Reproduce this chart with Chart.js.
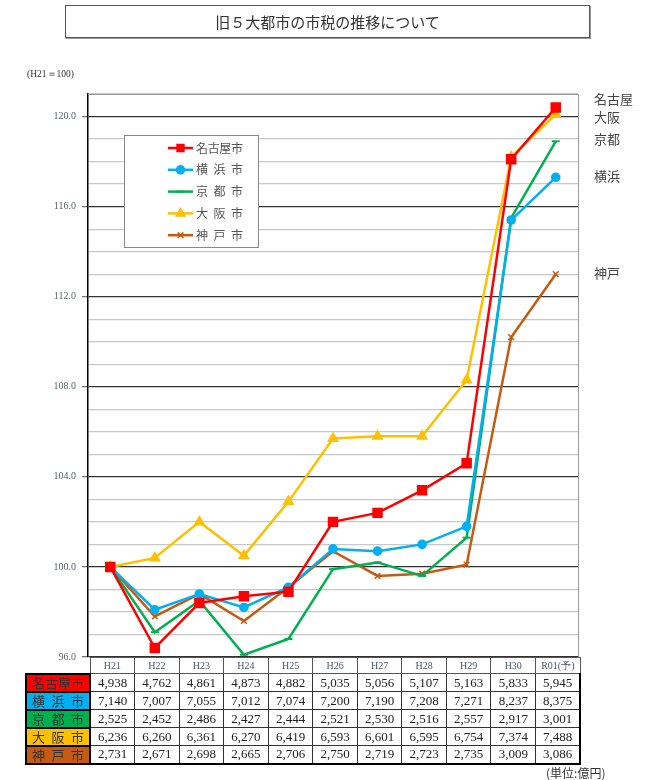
<!DOCTYPE html>
<html lang="ja">
<head>
    <meta charset="UTF-8">
    <title>旧５大都市の市税の推移について</title>
    <script src="https://cdn.jsdelivr.net/npm/chart.js"></script>
    <style>
        body { margin: 0; background: #fff; font-family: "Noto Sans CJK JP", sans-serif; }
        .wrap { position: relative; width: 659px; height: 780px; overflow: hidden; }
        canvas { position: absolute; left: 0; top: 0; }
        .title {
            position: absolute; left: 65px; top: 5px; width: 523px; height: 31px;
            border: 1.5px solid #555; box-shadow: 1px 1px 0 #999;
            text-align: center; line-height: 31px; font-size: 15px; color: #333;
        }
        .base { position: absolute; left: 27px; top: 68px; font-size: 9.5px; color: #333; font-family: "Liberation Serif", serif; }
        .unit { position: absolute; left: 546px; top: 764px; font-size: 12px; color: #333; }
        table { position: absolute; left: 25px; top: 657px; border-collapse: collapse; table-layout: fixed; }
        td { padding: 0; text-align: center; font-family: "Liberation Serif", serif; font-size: 13px; color: #222;
             border: 1px solid #333; height: 16px; line-height: 14px; white-space: nowrap; overflow: hidden; }
        tr.head td { font-size: 10px; color: #4a5470; height: 15px; border-color: #555; }
        tr.head td.blank { border: none; }
        td.name { border: 2px solid #000; font-family: "Noto Sans CJK JP", sans-serif; font-size: 13px; color: #333; }
        td.name span.sp { display: flex; justify-content: space-between; padding: 0 5px; line-height: 14px; }
        tbody.rows tr td:last-child { border-right: 2px solid #000; }
        tbody.rows tr:last-child td { border-bottom: 2px solid #000; }
    </style>
</head>
<body>
<div class="wrap">
    <canvas id="chart" width="659" height="780"></canvas>
    <div class="title">旧５大都市の市税の推移について</div>
    <div class="base">(H21＝100)</div>
    <table id="taxTable"></table>
    <div class="unit">(単位:億円)</div>
</div>

<script>
    // fiscal years
    const categories = ['H21', 'H22', 'H23', 'H24', 'H25', 'H26', 'H27', 'H28', 'H29', 'H30', 'R01(予)'];

    // city names (legend / table / right side labels)
    const cityNames = ['名古屋市', '横浜市', '京都市', '大阪市', '神戸市'];
    const shortNames = ['名古屋', '横浜', '京都', '大阪', '神戸'];
    const cityColors = ['#ff0000', '#00b0f0', '#00b050', '#ffc000', '#c55a11'];

    // index (H21 = 100)
    const nagoyaIndex = [100.0, 96.4, 98.4, 98.7, 98.9, 102.0, 102.4, 103.4, 104.6, 118.1, 120.4];
    const yokohamaIndex = [100.0, 98.1, 98.8, 98.2, 99.1, 100.8, 100.7, 101.0, 101.8, 115.4, 117.3];
    const kyotoIndex = [100.0, 97.1, 98.5, 96.1, 96.8, 99.9, 100.2, 99.6, 101.3, 115.5, 118.9];
    const osakaIndex = [100.0, 100.4, 102.0, 100.5, 102.9, 105.7, 105.8, 105.8, 108.3, 118.2, 120.1];
    const kobeIndex = [100.0, 97.8, 98.8, 97.6, 99.1, 100.7, 99.6, 99.7, 100.1, 110.2, 113.0];

    // tax revenue, 億円 (table under the chart)
    const nagoyaTax = [4938, 4762, 4861, 4873, 4882, 5035, 5056, 5107, 5163, 5833, 5945];
    const yokohamaTax = [7140, 7007, 7055, 7012, 7074, 7200, 7190, 7208, 7271, 8237, 8375];
    const kyotoTax = [2525, 2452, 2486, 2427, 2444, 2521, 2530, 2516, 2557, 2917, 3001];
    const osakaTax = [6236, 6260, 6361, 6270, 6419, 6593, 6601, 6595, 6754, 7374, 7488];
    const kobeTax = [2731, 2671, 2698, 2665, 2706, 2750, 2719, 2723, 2735, 3009, 3086];

    const indexSeries = [nagoyaIndex, yokohamaIndex, kyotoIndex, osakaIndex, kobeIndex];
    const taxSeries = [nagoyaTax, yokohamaTax, kyotoTax, osakaTax, kobeTax];

    // marker look per city
    const pointStyles = ['rect', 'circle', 'line', 'triangle', 'crossRot'];
    const pointRadii = [6, 3.8, 4, 5, 4];
    const labelNudge = [-8, -1, -2, 3, -1];

    // build the table
    const table = document.getElementById('taxTable');
    let html = '<colgroup><col style="width:63px">' + categories.map(() => '<col style="width:44.55px">').join('') + '</colgroup>';
    html += '<tbody><tr class="head"><td class="blank"></td>' + categories.map(c => '<td>' + c + '</td>').join('') + '</tr></tbody>';
    html += '<tbody class="rows">';
    cityNames.forEach((name, i) => {
        const chars = name.split('').map(ch => '<span>' + ch + '</span>').join('');
        html += '<tr><td class="name" style="background:' + cityColors[i] + '"><span class="sp">' + chars + '</span></td>';
        html += taxSeries[i].map(v => '<td>' + v.toLocaleString('en-US') + '</td>').join('') + '</tr>';
    });
    html += '</tbody>';
    table.innerHTML = html;

    // draw text spread over a fixed width
    function spreadText(ctx, text, x, y, width) {
        const chars = text.split('');
        const step = chars.length > 1 ? (width - ctx.measureText(chars[chars.length - 1]).width) / (chars.length - 1) : 0;
        chars.forEach((ch, k) => ctx.fillText(ch, x + k * step, y));
    }

    const overlay = {
        id: 'overlay',
        afterDraw(chart) {
            const { ctx, chartArea: a, scales: { y } } = chart;
            ctx.save();

            // top and right frame
            ctx.strokeStyle = '#999';
            ctx.lineWidth = 1;
            ctx.beginPath();
            ctx.moveTo(a.left, a.top + 0.5);
            ctx.lineTo(a.right + 0.5, a.top + 0.5);
            ctx.lineTo(a.right + 0.5, a.bottom);
            ctx.stroke();

            // names at the right end of the lines
            ctx.font = '13px "Noto Sans CJK JP"';
            ctx.fillStyle = '#444';
            ctx.textBaseline = 'middle';
            shortNames.forEach((n, i) => {
                const last = indexSeries[i][indexSeries[i].length - 1];
                ctx.fillText(n, 594, y.getPixelForValue(last) + labelNudge[i]);
            });

            // legend box
            const bx = 124, by = 135, bw = 134, bh = 112;
            ctx.fillStyle = '#fff';
            ctx.fillRect(bx, by, bw, bh);
            ctx.strokeStyle = '#888';
            ctx.strokeRect(bx + 0.5, by + 0.5, bw, bh);
            ctx.font = '12px "Noto Sans CJK JP"';
            cityNames.forEach((n, i) => {
                const yy = by + 13 + i * 21.8;
                ctx.strokeStyle = cityColors[i];
                ctx.fillStyle = cityColors[i];
                ctx.lineWidth = 2.5;
                ctx.beginPath();
                ctx.moveTo(168, yy);
                ctx.lineTo(193, yy);
                ctx.stroke();
                ctx.lineWidth = i === 4 ? 1.5 : 2;
                Chart.helpers.drawPoint(ctx, {
                    pointStyle: pointStyles[i],
                    radius: Math.min(pointRadii[i], 4.5),
                    rotation: 0,
                    borderWidth: ctx.lineWidth
                }, 180.5, yy);
                ctx.fillStyle = '#555';
                spreadText(ctx, n, 196, yy, 47);
            });
            ctx.restore();
        }
    };

    const datasets = cityNames.map((name, i) => ({
        label: name,
        data: indexSeries[i],
        borderColor: cityColors[i],
        backgroundColor: cityColors[i],
        borderWidth: 2.5,
        pointStyle: pointStyles[i],
        pointRadius: pointRadii[i],
        pointBorderWidth: i === 4 ? 1.5 : 2,
        tension: 0
    }));

    new Chart(document.getElementById('chart').getContext('2d'), {
        type: 'line',
        data: { labels: categories, datasets: datasets },
        options: {
            responsive: false,
            animation: false,
            layout: { padding: { left: 0, right: 81, top: 94, bottom: 123 } },
            plugins: { legend: { display: false }, tooltip: { enabled: false } },
            scales: {
                x: { type: 'category', offset: true, display: false },
                y: {
                    min: 96,
                    max: 121,
                    afterFit(scale) { scale.width = 88; },
                    border: { color: '#000', width: 1.5 },
                    grid: {
                        color: c => c.tick.value % 4 === 0 ? '#333' : '#c8c8c8',
                        lineWidth: c => c.tick.value % 4 === 0 ? 1.3 : 1.2,
                        tickColor: c => c.tick.value % 4 === 0 ? '#777' : 'rgba(0,0,0,0)',
                        tickLength: 6
                    },
                    ticks: {
                        stepSize: 1,
                        autoSkip: false,
                        padding: 6,
                        color: '#5a6070',
                        font: { family: 'Liberation Serif', size: 10 },
                        callback: v => v % 4 === 0 ? v.toFixed(1) : ''
                    }
                }
            }
        },
        plugins: [overlay]
    });
</script>
</body>
</html>
